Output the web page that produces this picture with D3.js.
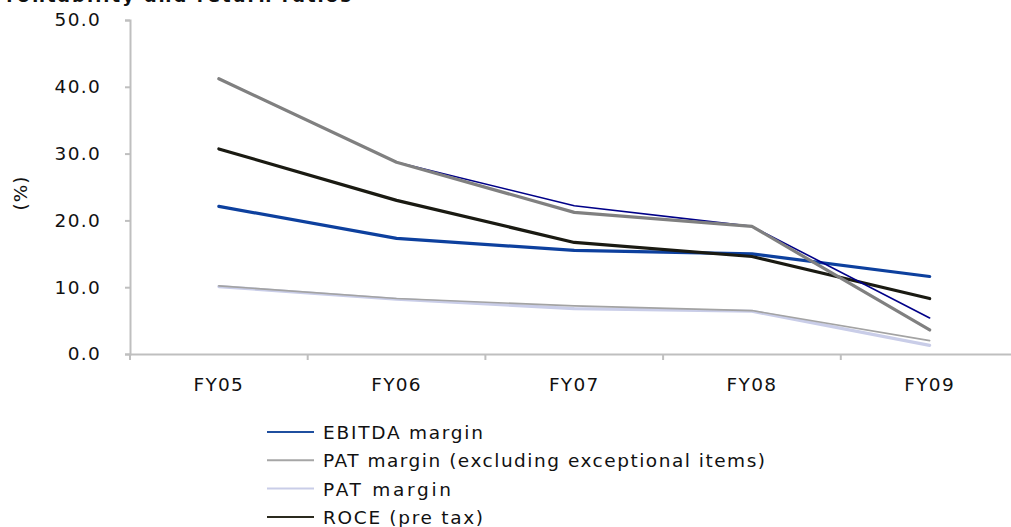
<!DOCTYPE html>
<html>
<head>
<meta charset="utf-8">
<script src="https://cdn.jsdelivr.net/npm/d3@7"></script>
<style>
  html, body { margin: 0; padding: 0; background: #fff; }
  svg { display: block; }
  text { font-family: "DejaVu Sans", Verdana, sans-serif; fill: #111; }
</style>
</head>
<body>
<svg id="chart" width="1011" height="527"></svg>
<script>
// Fiscal years on the x axis
const years = ["FY05", "FY06", "FY07", "FY08", "FY09"];

// Ratios, in percent
const ebitdaMargin = [22.1, 17.3, 15.5, 15.0, 11.6];
const patMarginExcl = [41.2, 28.7, 21.2, 19.1, 3.6];
const patMargin = [10.1, 8.2, 6.8, 6.4, 1.3];
const roce = [30.7, 23.0, 16.7, 14.6, 8.3];

// Companion series plotted without a legend entry
const patMarginExclAlt = [41.2, 28.7, 22.2, 19.1, 5.4];
const patMarginAlt = [10.2, 8.3, 7.2, 6.5, 2.0];

const yTicks = [0, 10, 20, 30, 40, 50];

const svg = d3.select("#chart");

const x = d3.scaleBand().domain(years).range([130, 1018.5]);
const y = d3.scaleLinear().domain([0, 50]).range([354, 20]);

const axisColor = "#bfbfbf";

// Title
svg.append("text")
  .attr("x", -9).attr("y", 2)
  .attr("font-weight", "bold")
  .attr("font-size", 18)
  .attr("textLength", 360)
  .attr("lengthAdjust", "spacing")
  .text("Profitability and return ratios");

// Y axis
const yAxis = svg.append("g")
  .attr("transform", "translate(130,0)")
  .call(d3.axisLeft(y).tickValues(yTicks).tickFormat(d3.format(".1f")).tickSize(5).tickPadding(24));
yAxis.select(".domain").attr("stroke", axisColor).attr("stroke-width", 2);
yAxis.selectAll(".tick line").attr("stroke", axisColor).attr("stroke-width", 2);
yAxis.selectAll(".tick text")
  .attr("font-size", 18.5)
  .attr("font-family", "DejaVu Sans, Verdana, sans-serif")
  .attr("fill", "#111")
  .attr("letter-spacing", 1.3);

// X axis, ticks on category boundaries
const xAxis = svg.append("g")
  .attr("transform", "translate(0,354)")
  .call(d3.axisBottom(x).tickSize(0).tickPadding(20));
xAxis.select(".domain").attr("stroke", axisColor).attr("stroke-width", 2);
xAxis.selectAll(".tick text")
  .attr("font-size", 18.5)
  .attr("font-family", "DejaVu Sans, Verdana, sans-serif")
  .attr("fill", "#111")
  .attr("letter-spacing", 1.3)
  .attr("dy", "0.9em");
svg.append("g")
  .selectAll("line")
  .data(years.map((d, i) => x(d)))
  .join("line")
  .attr("x1", d => d).attr("x2", d => d)
  .attr("y1", 354).attr("y2", 360)
  .attr("stroke", axisColor).attr("stroke-width", 2);

// Y axis title
svg.append("text")
  .attr("transform", "translate(27,193) rotate(-90)")
  .attr("text-anchor", "middle")
  .attr("font-size", 18.5)
  .attr("letter-spacing", 1)
  .text("(%)");

const line = d3.line()
  .x((d, i) => x(years[i]) + x.bandwidth() / 2)
  .y(d => y(d));

const series = [
  { values: ebitdaMargin, color: "#0d409e", width: 3.2 },
  { values: roce, color: "#1a1a12", width: 3.2 },
  { values: patMarginExclAlt, color: "#000088", width: 1.6 },
  { values: patMarginExcl, color: "#808080", width: 3.2 },
  { values: patMargin, color: "#c9cde8", width: 3.2 },
  { values: patMarginAlt, color: "#a3a3a3", width: 1.6 }
];

svg.append("g")
  .selectAll("path")
  .data(series)
  .join("path")
  .attr("d", d => line(d.values))
  .attr("fill", "none")
  .attr("stroke", d => d.color)
  .attr("stroke-width", d => d.width)
  .attr("stroke-linejoin", "round")
  .attr("stroke-linecap", "round");

// Legend
const legendItems = [
  { label: "EBITDA margin", color: "#1f4f9f", len: 160 },
  { label: "PAT margin (excluding exceptional items)", color: "#a6a6a6", len: 442 },
  { label: "PAT margin", color: "#c9cde8", len: 128 },
  { label: "ROCE (pre tax)", color: "#2b2a1e", len: 160 }
];

const legend = svg.append("g");
legendItems.forEach((item, i) => {
  const yy = 432 + i * 28.3;
  legend.append("line")
    .attr("x1", 267).attr("x2", 314)
    .attr("y1", yy).attr("y2", yy)
    .attr("stroke", item.color).attr("stroke-width", 2);
  legend.append("text")
    .attr("x", 323).attr("y", yy + 7)
    .attr("font-size", 18.5)
    .attr("textLength", item.len)
    .attr("lengthAdjust", "spacing")
    .text(item.label);
});
</script>
</body>
</html>
